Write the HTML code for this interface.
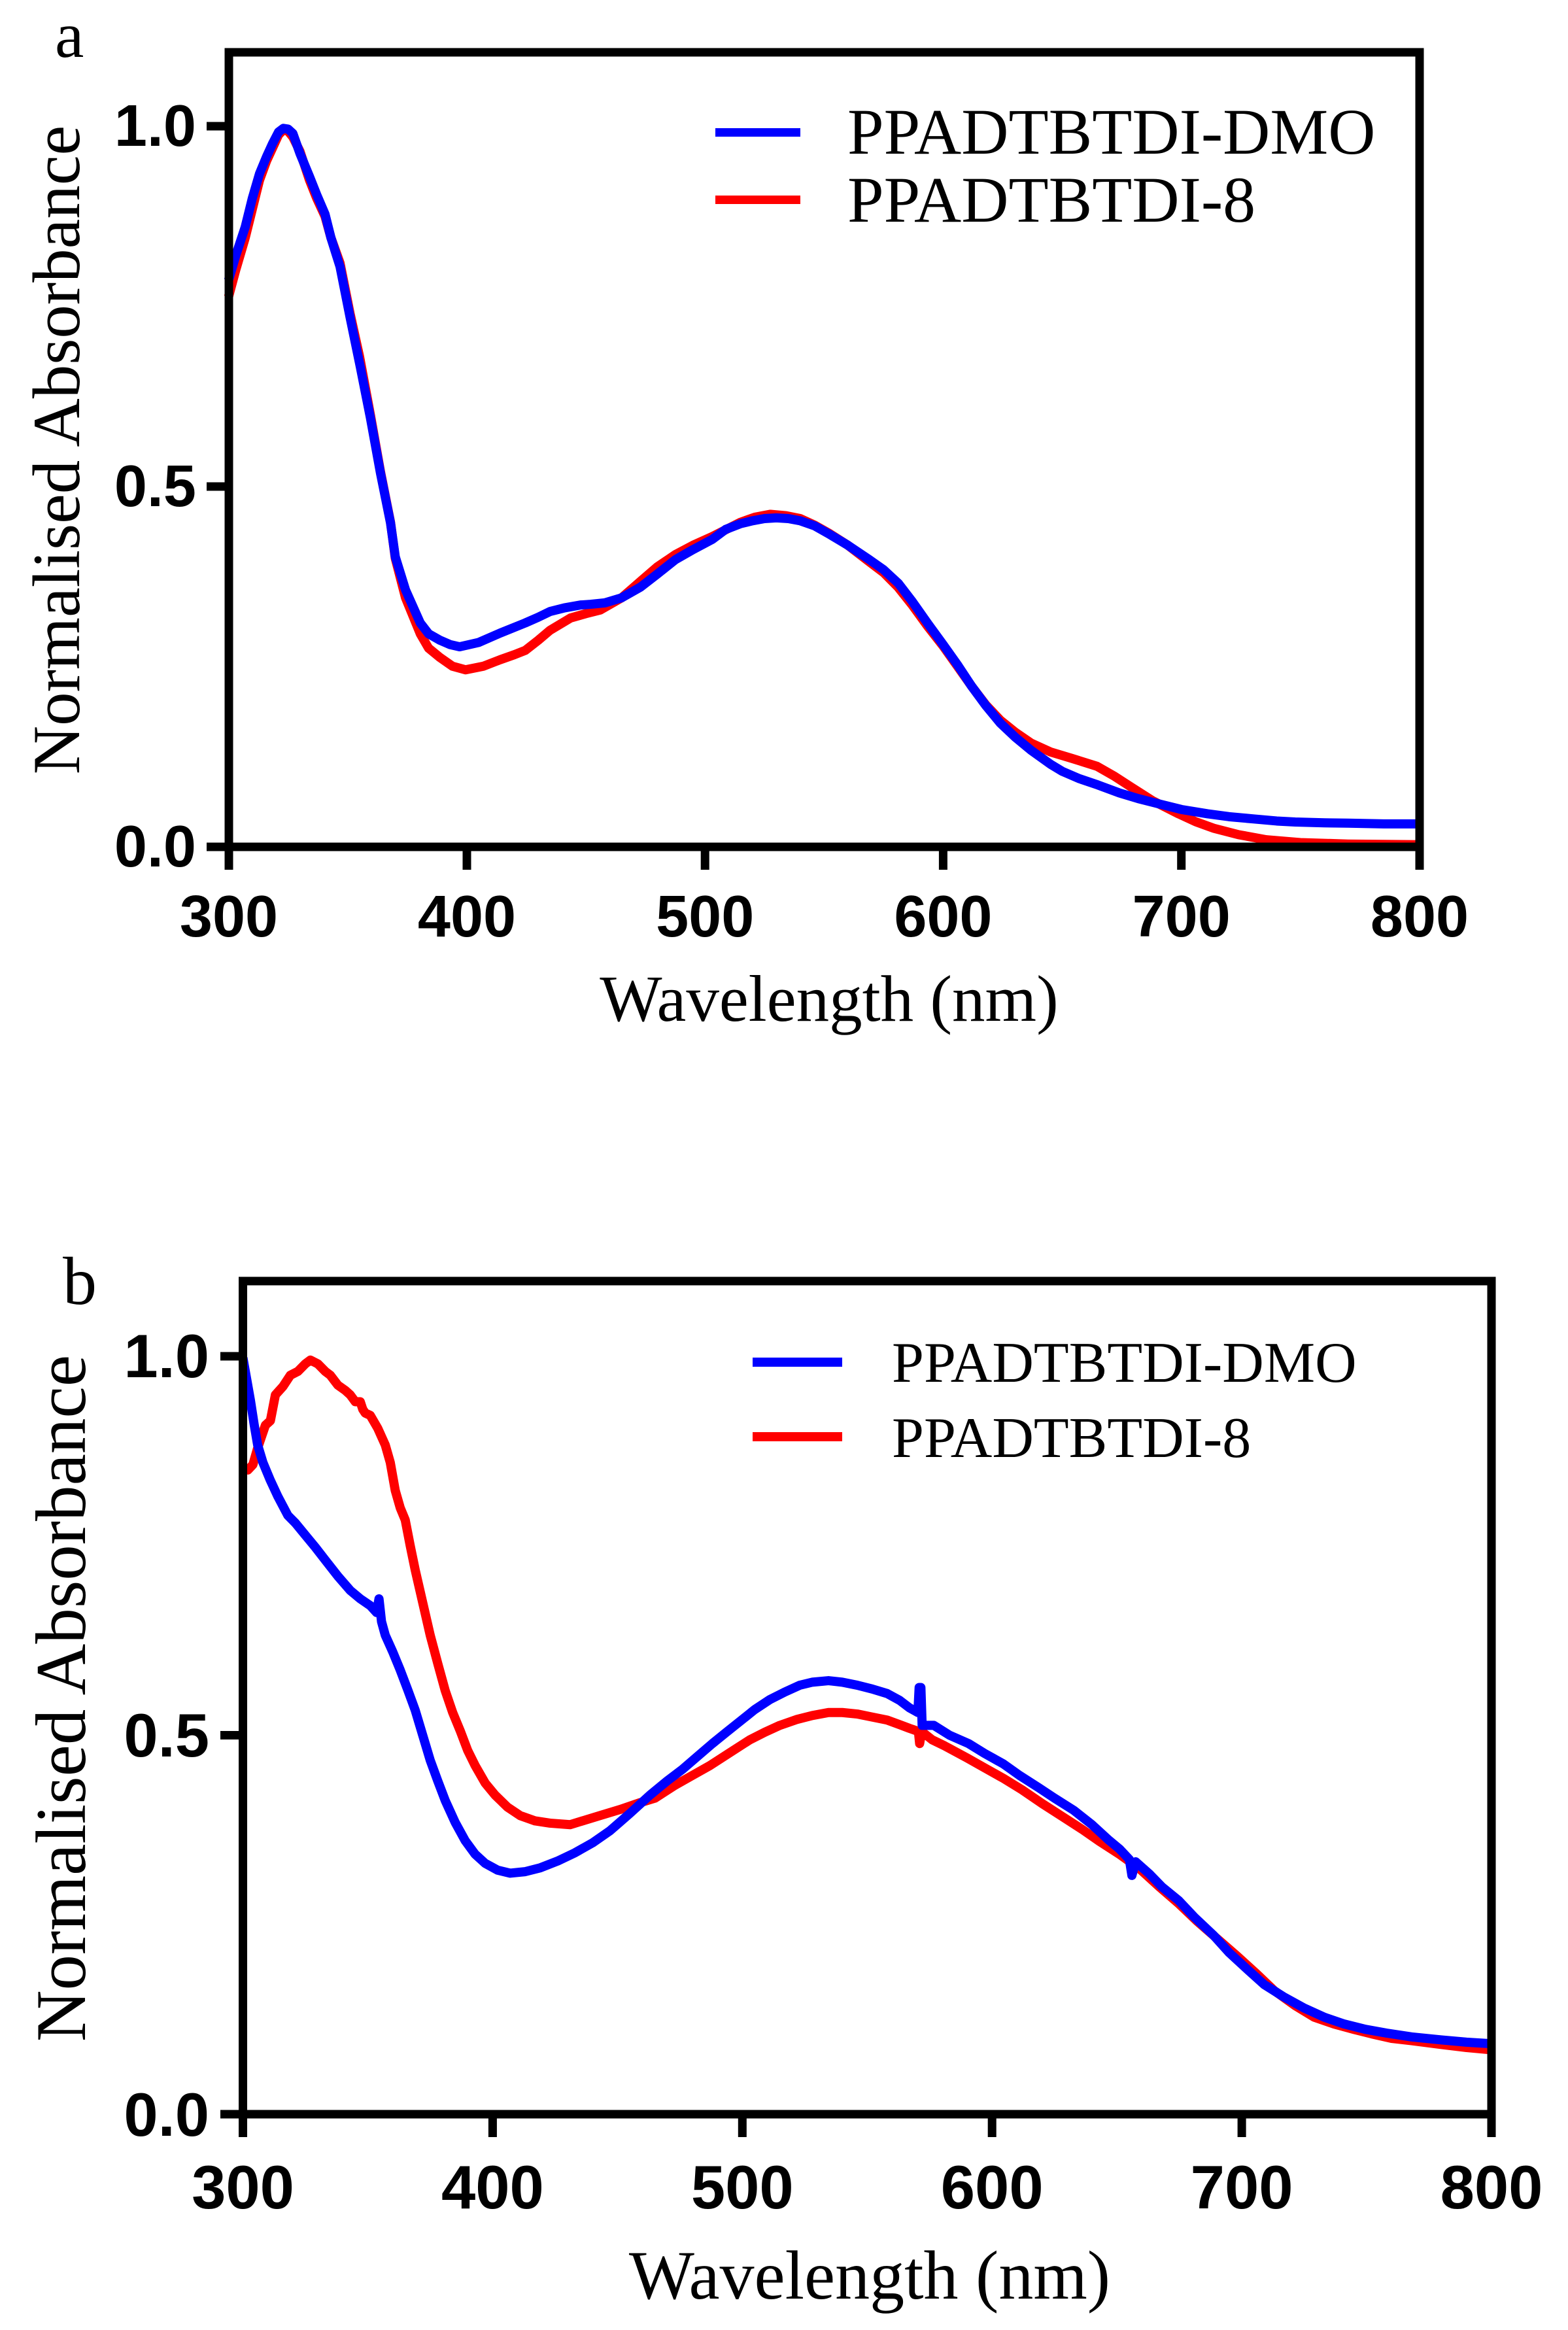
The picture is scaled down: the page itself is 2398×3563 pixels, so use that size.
<!DOCTYPE html>
<html>
<head>
<meta charset="utf-8">
<style>
html,body{margin:0;padding:0;background:#fff;}
svg{display:block;}
.ser{font-family:"Liberation Serif","Times New Roman",serif;fill:#000;}
.tk{font-family:"Liberation Sans",Arial,sans-serif;font-weight:bold;fill:#000;}
</style>
</head>
<body>
<svg width="2398" height="3563" viewBox="0 0 2398 3563" xmlns="http://www.w3.org/2000/svg">
<rect x="0" y="0" width="2398" height="3563" fill="#fff"/>

<!-- ============ PANEL A ============ -->
<text class="ser" x="84" y="87" font-size="100">a</text>

<!-- curves -->
<g transform="translate(349.5,1294) scale(3.643,-1101) translate(-300,0)" fill="none" stroke-linejoin="round" stroke-linecap="butt">
<polyline vector-effect="non-scaling-stroke" stroke="#ff0000" stroke-width="14" points="300,0.763 303,0.8 307,0.845 310,0.885 313,0.925 316,0.952 318.5,0.97 321,0.988 323,0.995 325,0.993 327,0.985 330,0.965 334,0.925 337,0.9 340.5,0.875 343,0.845 346.8,0.81 351,0.74 355,0.68 359.5,0.6 363.8,0.52 368,0.45 370,0.40 374.3,0.345 380.5,0.295 384,0.275 388.8,0.262 394,0.25 399.5,0.245 407,0.25 414,0.259 420,0.266 424.6,0.272 430,0.286 435,0.30 443.6,0.317 450,0.323 456,0.328 465,0.345 473,0.368 480,0.388 487.6,0.405 495,0.418 503,0.43 515,0.45 521,0.457 527.5,0.461 534,0.459 540,0.455 546,0.446 551.9,0.435 560,0.418 569,0.395 575,0.38 581,0.36 587,0.335 593.6,0.305 600,0.278 606,0.25 612,0.222 618,0.196 624,0.175 630.4,0.158 637,0.143 645,0.131 654,0.122 664.6,0.111 672,0.097 679,0.082 688,0.063 698.8,0.045 706,0.034 713.5,0.025 724,0.016 735.6,0.009 750,0.005 770,0.003 800,0.002"/>
<polyline vector-effect="non-scaling-stroke" stroke="#0000ff" stroke-width="14" points="300,0.786 303,0.82 307,0.86 310,0.9 313,0.934 316,0.958 318.5,0.976 321,0.992 323,0.997 325,0.996 327,0.99 330,0.962 334,0.93 337,0.905 340.5,0.878 343,0.845 346.8,0.805 351,0.735 355.3,0.666 359.5,0.596 363.8,0.518 368,0.449 370,0.402 374.3,0.356 380.5,0.31 384,0.295 388.8,0.286 393,0.28 397,0.277 405,0.283 414,0.296 424.5,0.31 430,0.318 435,0.326 441,0.331 447.8,0.335 452,0.336 458,0.338 465,0.345 473,0.36 480,0.378 487.6,0.398 495,0.412 503,0.426 508.7,0.44 515,0.448 520,0.452 525,0.455 530,0.456 535,0.455 540,0.452 546,0.445 551.9,0.434 560,0.418 569,0.398 575,0.384 581.2,0.365 587,0.34 593.6,0.309 600,0.28 606,0.252 612,0.222 618,0.195 624,0.171 630.4,0.151 637,0.133 645,0.114 650,0.104 657,0.094 665,0.085 674,0.074 682,0.066 691.5,0.058 700,0.051 711,0.045 720,0.041 730,0.038 740,0.035 747.8,0.0336 760,0.0325 770,0.032 785,0.031 800,0.031"/>
</g>

<!-- frame -->
<rect x="350" y="80" width="1821" height="1215" fill="none" stroke="#000" stroke-width="13"/>
<g stroke="#000" stroke-width="13">
<line x1="316" y1="193" x2="350" y2="193"/>
<line x1="316" y1="744" x2="350" y2="744"/>
<line x1="316" y1="1295" x2="350" y2="1295"/>
<line x1="350" y1="1295" x2="350" y2="1330"/>
<line x1="714" y1="1295" x2="714" y2="1330"/>
<line x1="1078.2" y1="1295" x2="1078.2" y2="1330"/>
<line x1="1442.4" y1="1295" x2="1442.4" y2="1330"/>
<line x1="1806.7" y1="1295" x2="1806.7" y2="1330"/>
<line x1="2171" y1="1295" x2="2171" y2="1330"/>
</g>
<g class="tk" font-size="90" text-anchor="end">
<text x="300" y="223">1.0</text>
<text x="300" y="774">0.5</text>
<text x="300" y="1325">0.0</text>
</g>
<g class="tk" font-size="90" text-anchor="middle">
<text x="350" y="1432">300</text>
<text x="714" y="1432">400</text>
<text x="1078.2" y="1432">500</text>
<text x="1442.4" y="1432">600</text>
<text x="1806.7" y="1432">700</text>
<text x="2171" y="1432">800</text>
</g>
<text class="ser" font-size="103" text-anchor="middle" transform="translate(121,688) rotate(-90)">Normalised Absorbance</text>
<text class="ser" font-size="101" text-anchor="middle" x="1268" y="1561">Wavelength (nm)</text>

<!-- legend a -->
<line x1="1094" y1="202.5" x2="1224" y2="202.5" stroke="#0000ff" stroke-width="13"/>
<line x1="1094" y1="305.5" x2="1224" y2="305.5" stroke="#ff0000" stroke-width="13"/>
<text class="ser" font-size="100" x="1296" y="235">PPADTBTDI-DMO</text>
<text class="ser" font-size="100" x="1296" y="339">PPADTBTDI-8</text>

<!-- ============ PANEL B ============ -->
<text class="ser" x="96" y="1994" font-size="104">b</text>

<g transform="translate(371.5,3233) scale(3.819,-1159) translate(-300,0)" fill="none" stroke-linejoin="round" stroke-linecap="butt">
<polyline vector-effect="non-scaling-stroke" stroke="#ff0000" stroke-width="14" points="300,0.853 302,0.85 304,0.857 306,0.88 309,0.909 311,0.915 313,0.949 316,0.96 319,0.975 322,0.98 325,0.99 327,0.995 330,0.99 333,0.98 335,0.975 338,0.962 341,0.955 343,0.949 345,0.94 347,0.94 348,0.93 349,0.925 351,0.922 354,0.905 357,0.883 359,0.86 361,0.823 363,0.8 365,0.784 367,0.75 369,0.718 372,0.675 375,0.632 378,0.595 381,0.559 384,0.53 387,0.506 390,0.48 393,0.46 397,0.437 401,0.421 406,0.405 411,0.394 417,0.387 423,0.384 431,0.382 437,0.388 443,0.394 451,0.402 459,0.411 465,0.417 473,0.434 480,0.447 487,0.46 495,0.477 503,0.494 509,0.504 515,0.513 522,0.521 528,0.526 534.5,0.53 540,0.53 546,0.528 552,0.524 558,0.52 563,0.514 567,0.509 570.5,0.505 571,0.489 571.8,0.505 576,0.494 581,0.486 590,0.47 597,0.457 604.6,0.443 612,0.428 620,0.41 628,0.393 636,0.376 643,0.36 651,0.343 659,0.324 667,0.3 674.7,0.278 682,0.255 690,0.232 698,0.209 706,0.185 713,0.163 721.5,0.143 729,0.128 737,0.119 744.8,0.112 752,0.106 760,0.1 768,0.097 780,0.092 790,0.088 800,0.085"/>
<polyline vector-effect="non-scaling-stroke" stroke="#0000ff" stroke-width="14" points="300,0.998 301.5,0.97 303,0.942 304.5,0.91 305.9,0.883 308,0.86 310.9,0.837 314,0.815 318,0.79 321,0.78 325,0.764 329,0.748 333,0.731 338,0.71 343,0.691 347,0.68 351,0.671 353.5,0.662 354.5,0.68 355.5,0.65 357,0.632 360,0.61 363,0.586 366,0.56 369,0.533 372,0.5 375,0.467 378,0.44 381,0.414 385,0.385 389,0.361 393,0.343 397,0.331 402,0.322 407,0.318 413,0.32 419,0.325 426,0.334 433,0.345 440,0.358 447,0.374 455,0.397 463,0.421 470,0.44 476,0.455 482,0.472 488,0.489 494,0.505 499.7,0.52 505,0.534 511,0.547 517,0.557 523,0.566 528,0.57 534.5,0.572 540,0.57 546,0.566 552,0.561 558,0.555 563,0.546 567,0.536 570.3,0.53 570.8,0.563 571.5,0.563 572,0.513 576.7,0.513 583,0.5 590.6,0.489 597,0.476 604.6,0.462 611,0.447 618.6,0.431 625,0.417 632.7,0.401 640,0.382 646.6,0.362 651,0.35 655,0.336 656,0.315 657.5,0.333 663,0.317 668,0.3 674.7,0.282 681,0.26 688.7,0.236 695,0.213 702.6,0.19 709,0.171 716.7,0.155 725,0.14 733,0.128 741,0.119 749.5,0.112 758,0.107 768,0.102 780,0.098 790,0.095 800,0.093"/>
</g>

<rect x="371.5" y="1959" width="1909.5" height="1274" fill="none" stroke="#000" stroke-width="13"/>
<g stroke="#000" stroke-width="13">
<line x1="337" y1="2074" x2="372" y2="2074"/>
<line x1="337" y1="2653.5" x2="372" y2="2653.5"/>
<line x1="337" y1="3233" x2="372" y2="3233"/>
<line x1="371.5" y1="3233" x2="371.5" y2="3268"/>
<line x1="753.4" y1="3233" x2="753.4" y2="3268"/>
<line x1="1135.3" y1="3233" x2="1135.3" y2="3268"/>
<line x1="1517.2" y1="3233" x2="1517.2" y2="3268"/>
<line x1="1899.1" y1="3233" x2="1899.1" y2="3268"/>
<line x1="2281" y1="3233" x2="2281" y2="3268"/>
</g>
<g class="tk" font-size="94" text-anchor="end">
<text x="320" y="2106">1.0</text>
<text x="320" y="2686">0.5</text>
<text x="320" y="3266">0.0</text>
</g>
<g class="tk" font-size="94" text-anchor="middle">
<text x="371.5" y="3377">300</text>
<text x="753.4" y="3377">400</text>
<text x="1135.3" y="3377">500</text>
<text x="1517.2" y="3377">600</text>
<text x="1899.1" y="3377">700</text>
<text x="2281" y="3377">800</text>
</g>
<text class="ser" font-size="109" text-anchor="middle" transform="translate(130,2597) rotate(-90)">Normalised Absorbance</text>
<text class="ser" font-size="106" text-anchor="middle" x="1330" y="3515">Wavelength (nm)</text>

<!-- legend b -->
<line x1="1151" y1="2083" x2="1288" y2="2083" stroke="#0000ff" stroke-width="14"/>
<line x1="1151" y1="2197" x2="1288" y2="2197" stroke="#ff0000" stroke-width="14"/>
<text class="ser" font-size="88" x="1364" y="2113">PPADTBTDI-DMO</text>
<text class="ser" font-size="88" x="1364" y="2228">PPADTBTDI-8</text>
</svg>
</body>
</html>
